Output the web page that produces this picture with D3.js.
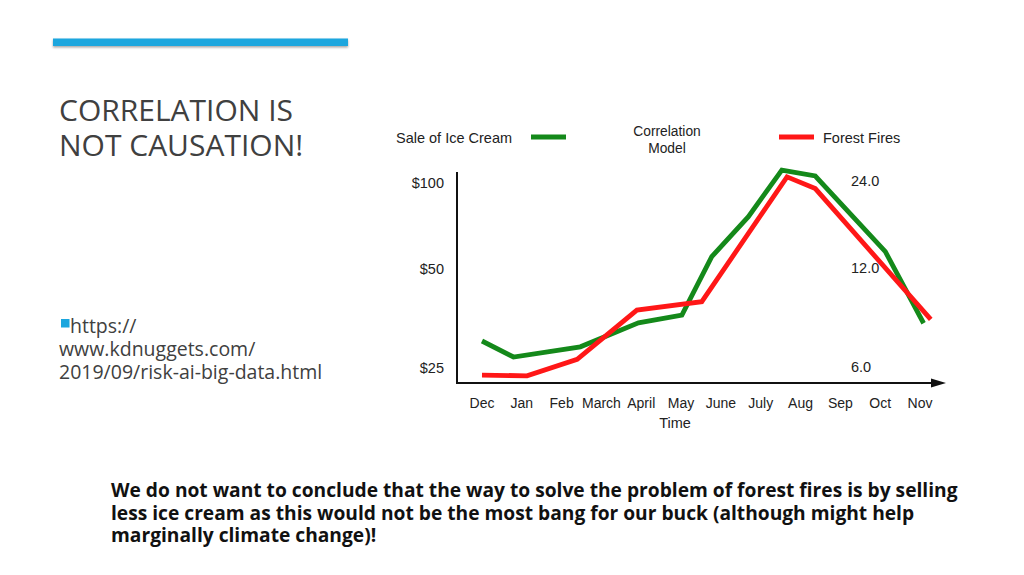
<!DOCTYPE html>
<html>
<head>
<meta charset="utf-8">
<script src="https://cdn.jsdelivr.net/npm/d3@7"></script>
<style>
  html, body { margin: 0; padding: 0; background: #fff; }
  svg { display: block; }
</style>
</head>
<body>
<div id="slide"></div>
<script>
// month labels along the time axis
const months = ["Dec", "Jan", "Feb", "March", "April", "May", "June", "July", "Aug", "Sep", "Oct", "Nov"];

// ice cream sales ($), vertices placed at fractional month positions
const iceX = [0, 0.79, 2.47, 3.93, 5.02, 5.77, 6.69, 7.53, 8.37, 10.13, 11.09];
const iceY = [30.2, 27.0, 29.0, 34.3, 36.2, 55.2, 76.2, 111, 105.8, 57.5, 34.2];

// forest fires (count), right-hand scale
const fireX = [0, 1.13, 2.39, 3.89, 5.52, 7.66, 8.37, 11.27];
const fireY = [5.67, 5.64, 6.33, 8.94, 9.48, 24.8, 22.6, 8.37];

// tick labels
const leftTicks = [100, 50, 25];
const rightTicks = [24, 12, 6];

const titleLines = ["CORRELATION IS", "NOT CAUSATION!"];
const linkLines = ["https://", "www.kdnuggets.com/", "2019/09/risk-ai-big-data.html"];
const noteLines = [
  "We do not want to conclude that the way to solve the problem of forest fires is by selling",
  "less ice cream as this would not be the most bang for our buck (although might help",
  "marginally climate change)!"
];

const W = 1024, H = 575;
const svg = d3.select("#slide").append("svg").attr("width", W).attr("height", H);
svg.append("rect").attr("width", W).attr("height", H).attr("fill", "#fff");

const defs = svg.append("defs");
const shadow = defs.append("filter").attr("id", "shadow").attr("x", "-5%").attr("y", "-50%")
  .attr("width", "110%").attr("height", "250%");
shadow.append("feDropShadow").attr("dx", 0).attr("dy", 1.5).attr("stdDeviation", 1)
  .attr("flood-color", "#000").attr("flood-opacity", 0.35);

// accent bar
svg.append("rect").attr("x", 53).attr("y", 38.5).attr("width", 295).attr("height", 7.5)
  .attr("fill", "#1ba6de").attr("filter", "url(#shadow)");

// title
svg.append("g").selectAll("text").data(titleLines).join("text")
  .attr("x", 59).attr("y", (d, i) => 120.5 + i * 35.5)
  .attr("font-family", "'Open Sans', 'Noto Sans', sans-serif")
  .attr("font-size", 30).attr("fill", "#404040")
  .text(d => d);

// bullet with link
svg.append("rect").attr("x", 61).attr("y", 319).attr("width", 8.5).attr("height", 8.5).attr("fill", "#1ba6de");
svg.append("g").selectAll("text").data(linkLines).join("text")
  .attr("x", (d, i) => i === 0 ? 70 : 59).attr("y", (d, i) => 333 + i * 22.8)
  .attr("font-family", "'Open Sans', 'Noto Sans', sans-serif")
  .attr("font-size", 19.5).attr("fill", "#404040")
  .text(d => d);

// bottom note
svg.append("g").selectAll("text").data(noteLines).join("text")
  .attr("x", 111).attr("y", (d, i) => 497 + i * 22.6)
  .attr("font-family", "'Open Sans', 'Noto Sans', sans-serif")
  .attr("font-weight", "bold")
  .attr("font-size", 19.2).attr("fill", "#111")
  .text(d => d);

// ---- chart ----
const chartFont = "'Liberation Sans', Arial, sans-serif";
const green = "#14891a";
const red = "#ff1717";

const x = d3.scaleLinear().domain([0, 11]).range([482, 920]);
const yL = d3.scaleLog().domain([25, 50, 100]).range([368, 269, 183]);
const yR = d3.scaleLog().domain([6, 12, 24]).range([367, 268, 181]);

const chart = svg.append("g").attr("font-family", chartFont).attr("fill", "#222");

// axes
chart.append("line").attr("x1", 457).attr("x2", 457).attr("y1", 172).attr("y2", 384)
  .attr("stroke", "#111").attr("stroke-width", 2);
chart.append("line").attr("x1", 456).attr("x2", 934).attr("y1", 383).attr("y2", 383)
  .attr("stroke", "#111").attr("stroke-width", 2);
chart.append("path").attr("d", "M946,383 L931,378.5 L931,387.5 Z").attr("fill", "#111");

// left tick labels
chart.append("g").selectAll("text").data(leftTicks).join("text")
  .attr("x", 444).attr("y", d => yL(d)).attr("dy", "0.35em")
  .attr("text-anchor", "end").attr("font-size", 14.5)
  .text(d => "$" + d);

// right tick labels
chart.append("g").selectAll("text").data(rightTicks).join("text")
  .attr("x", 851).attr("y", d => yR(d)).attr("dy", "0.35em")
  .attr("font-size", 14.5)
  .text(d => d.toFixed(1));

// month labels
chart.append("g").selectAll("text").data(months).join("text")
  .attr("x", (d, i) => x(i)).attr("y", 408)
  .attr("text-anchor", "middle").attr("font-size", 14)
  .text(d => d);
chart.append("text").attr("x", 675).attr("y", 428)
  .attr("text-anchor", "middle").attr("font-size", 14.5)
  .text("Time");

// lines
const iceLine = d3.line().x(d => x(d[0])).y(d => yL(d[1]));
const fireLine = d3.line().x(d => x(d[0])).y(d => yR(d[1]));

chart.append("path").datum(d3.zip(iceX, iceY)).attr("d", iceLine)
  .attr("fill", "none").attr("stroke", green).attr("stroke-width", 4.8)
  .attr("stroke-linejoin", "miter");
chart.append("path").datum(d3.zip(fireX, fireY)).attr("d", fireLine)
  .attr("fill", "none").attr("stroke", red).attr("stroke-width", 4.8)
  .attr("stroke-linejoin", "miter");

// legend
chart.append("text").attr("x", 396).attr("y", 143).attr("font-size", 14.5).text("Sale of Ice Cream");
chart.append("line").attr("x1", 531).attr("x2", 566).attr("y1", 137).attr("y2", 137)
  .attr("stroke", green).attr("stroke-width", 5);
chart.append("text").attr("x", 667).attr("y", 136).attr("text-anchor", "middle")
  .attr("font-size", 13.8).text("Correlation");
chart.append("text").attr("x", 667).attr("y", 153).attr("text-anchor", "middle")
  .attr("font-size", 13.8).text("Model");
chart.append("line").attr("x1", 779).attr("x2", 814).attr("y1", 137).attr("y2", 137)
  .attr("stroke", red).attr("stroke-width", 5);
chart.append("text").attr("x", 823).attr("y", 143).attr("font-size", 14.5).text("Forest Fires");
</script>
</body>
</html>
